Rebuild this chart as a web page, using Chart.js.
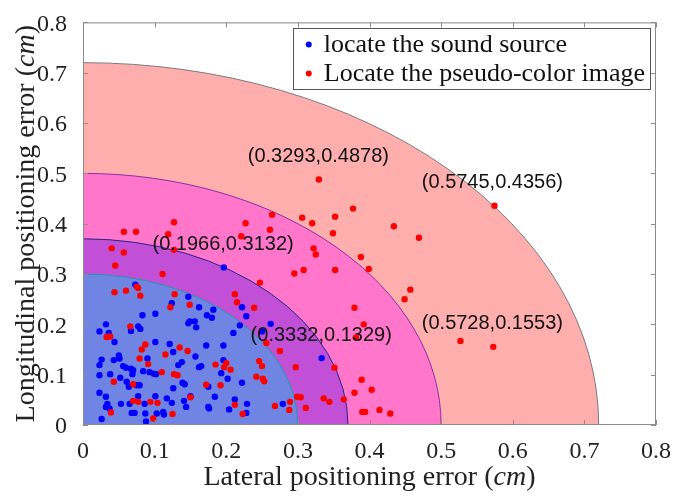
<!DOCTYPE html>
<html lang="en">
<head>
<meta charset="UTF-8">
<title>Positioning error</title>
<script src="https://cdn.jsdelivr.net/npm/chart.js"></script>
<style>
  body { margin: 0; background: #fff; }
  #caja { width: 675px; height: 496px; }
</style>
</head>
<body>
<div id="caja"><canvas id="errChart"></canvas></div>
<script>
// radii of the shaded error zones (cm), outermost first
var radios = [0.72, 0.5, 0.37, 0.3];

// blue points: locate the sound source
var blueX = [0.073,0.1966,0.124,0.147,0.162,0.149,0.147,0.156,0.158,0.173,0.180,0.182,0.219,0.222,0.228,0.262,0.210,0.083,0.101,0.077,
             0.080,0.067,0.023,0.032,0.036,0.044,0.026,0.023,0.023,0.043,0.050,0.051,0.056,0.060,0.067,0.070,0.069,0.052,0.038,0.061,
             0.064,0.075,0.079,0.023,0.032,0.034,0.032,0.037,0.026,0.053,0.065,0.068,0.072,0.077,0.086,0.087,0.088,0.084,0.090,0.093,
             0.099,0.102,0.101,0.101,0.103,0.112,0.113,0.117,0.121,0.126,0.124,0.126,0.133,0.138,0.139,0.142,0.141,0.144,0.150,0.157,
             0.162,0.165,0.172,0.175,0.175,0.176,0.184,0.193,0.196,0.202,0.204,0.212,0.222,0.228,0.229,0.279,0.3332,0.250,0.196];
var blueY = [0.279,0.3132,0.242,0.255,0.234,0.206,0.202,0.206,0.194,0.218,0.213,0.229,0.198,0.234,0.216,0.201,0.183,0.218,0.221,0.196,
             0.191,0.187,0.186,0.200,0.183,0.165,0.130,0.119,0.099,0.129,0.138,0.132,0.117,0.114,0.112,0.109,0.101,0.094,0.101,0.086,
             0.076,0.079,0.079,0.064,0.056,0.042,0.036,0.033,0.012,0.042,0.042,0.024,0.024,0.057,0.042,0.023,0.007,0.107,0.132,0.105,
             0.102,0.101,0.165,0.057,0.023,0.026,0.021,0.053,0.161,0.145,0.044,0.073,0.119,0.125,0.084,0.081,0.048,0.036,0.057,0.136,
             0.115,0.117,0.158,0.076,0.036,0.033,0.056,0.103,0.129,0.092,0.031,0.051,0.084,0.024,0.042,0.042,0.1329,0.186,0.158];

// red points: locate the pseudo-color image
var redX = [0.3293,0.264,0.306,0.320,0.352,0.349,0.261,0.227,0.221,0.127,0.119,0.074,0.057,0.040,0.322,0.127,0.377,0.434,0.469,0.388,
            0.399,0.5745,0.527,0.5728,0.057,0.045,0.111,0.075,0.077,0.044,0.060,0.080,0.128,0.122,0.149,0.066,0.033,0.038,0.087,0.082,
            0.079,0.091,0.115,0.135,0.146,0.110,0.127,0.132,0.043,0.070,0.070,0.077,0.094,0.104,0.039,0.098,0.125,0.150,0.172,0.192,
            0.185,0.197,0.200,0.206,0.212,0.223,0.239,0.212,0.215,0.247,0.246,0.250,0.242,0.251,0.253,0.256,0.275,0.268,0.288,0.289,
            0.299,0.304,0.297,0.311,0.295,0.308,0.325,0.336,0.344,0.351,0.352,0.457,0.449,0.379,0.392,0.381,0.364,0.389,0.379,0.403,
            0.390,0.394,0.414,0.429];
var redY = [0.4878,0.418,0.412,0.401,0.414,0.381,0.388,0.401,0.375,0.403,0.379,0.384,0.384,0.351,0.351,0.348,0.430,0.395,0.372,0.334,
            0.310,0.4356,0.167,0.1553,0.343,0.317,0.300,0.275,0.272,0.264,0.267,0.257,0.260,0.234,0.239,0.196,0.175,0.176,0.160,0.150,
            0.132,0.121,0.140,0.154,0.147,0.105,0.101,0.099,0.086,0.081,0.048,0.046,0.046,0.044,0.025,0.013,0.022,0.055,0.080,0.079,
            0.120,0.115,0.123,0.110,0.040,0.022,0.233,0.260,0.244,0.283,0.127,0.117,0.096,0.092,0.087,0.163,0.147,0.038,0.030,0.046,
            0.056,0.055,0.115,0.034,0.301,0.308,0.339,0.053,0.046,0.114,0.308,0.269,0.250,0.233,0.200,0.174,0.051,0.090,0.064,0.070,
            0.026,0.026,0.030,0.023];

// axis ticks
var tickVals = [0, 0.1, 0.2, 0.3, 0.4, 0.5, 0.6, 0.7, 0.8];

// coordinate labels written on the plot
var etiquetas = ['(0.3293,0.4878)', '(0.5745,0.4356)', '(0.1966,0.3132)', '(0.3332,0.1329)', '(0.5728,0.1553)'];
var leyenda = ['locate the sound source', 'Locate the pseudo-color image'];

// --- styles ---
var zoneFill = ['rgb(255,174,174)', 'rgb(255,118,202)', 'rgb(194,80,214)', 'rgb(112,132,228)'];
var zoneEdge = ['#7a7a7a', '#8a2fa8', '#26248a', '#1f9aa6'];
var labelAnchor = [[0.230, 0.534], [0.473, 0.481], [0.097, 0.359], [0.234, 0.177], [0.473, 0.201]];
var serif = '"Liberation Serif", "Times New Roman", serif';

function pares(xs, ys) {
    var out = [];
    for (var i = 0; i < xs.length; i++) out.push({x: xs[i], y: ys[i]});
    return out;
}

// draw text with an italic "cm"
function textoMixto(ctx, partes, size, cx, cy) {
    var total = 0;
    partes.forEach(function(p) {
        ctx.font = (p[1] ? 'italic ' : '') + size + 'px ' + serif;
        total += ctx.measureText(p[0]).width;
    });
    var x = cx - total / 2;
    partes.forEach(function(p) {
        ctx.font = (p[1] ? 'italic ' : '') + size + 'px ' + serif;
        ctx.fillText(p[0], x, cy);
        x += ctx.measureText(p[0]).width;
    });
}

var zonasPlugin = {
    id: 'zonas',
    beforeDatasetsDraw: function(chart) {
        var ctx = chart.ctx, sx = chart.scales.x, sy = chart.scales.y;
        var x0 = sx.getPixelForValue(0), y0 = sy.getPixelForValue(0);
        for (var i = 0; i < radios.length; i++) {
            var rx = sx.getPixelForValue(radios[i]) - x0;
            var ry = y0 - sy.getPixelForValue(radios[i]);
            ctx.save();
            ctx.beginPath();
            ctx.moveTo(x0, y0);
            ctx.ellipse(x0, y0, rx, ry, 0, -Math.PI / 2, 0);
            ctx.closePath();
            ctx.fillStyle = zoneFill[i];
            ctx.fill();
            ctx.beginPath();
            ctx.ellipse(x0, y0, rx, ry, 0, -Math.PI / 2, 0);
            ctx.strokeStyle = zoneEdge[i];
            ctx.lineWidth = 1;
            ctx.stroke();
            ctx.restore();
        }
    },
    afterDatasetsDraw: function(chart) {
        var ctx = chart.ctx, sx = chart.scales.x, sy = chart.scales.y, a = chart.chartArea;
        ctx.save();
        // coordinate labels
        ctx.fillStyle = '#111';
        ctx.font = '20px "Liberation Sans", Arial, sans-serif';
        ctx.textAlign = 'left';
        ctx.textBaseline = 'middle';
        for (var i = 0; i < etiquetas.length; i++) {
            ctx.fillText(etiquetas[i], sx.getPixelForValue(labelAnchor[i][0]), sy.getPixelForValue(labelAnchor[i][1]));
        }

        // axes box and inward ticks
        ctx.strokeStyle = '#8c8c8c';
        ctx.lineWidth = 1;
        ctx.strokeRect(a.left + 0.5, a.top + 0.5, a.right - a.left - 1, a.bottom - a.top - 1);
        ctx.beginPath();
        tickVals.forEach(function(v) {
            var px = Math.round(sx.getPixelForValue(v)) + 0.5;
            var py = Math.round(sy.getPixelForValue(v)) + 0.5;
            ctx.moveTo(px, a.bottom); ctx.lineTo(px, a.bottom - 5);
            ctx.moveTo(px, a.top); ctx.lineTo(px, a.top + 5);
            ctx.moveTo(a.left, py); ctx.lineTo(a.left + 5, py);
            ctx.moveTo(a.right, py); ctx.lineTo(a.right - 5, py);
        });
        ctx.stroke();

        // legend box in the upper right corner
        ctx.font = '26px ' + serif;
        var ancho = Math.max(ctx.measureText(leyenda[0]).width, ctx.measureText(leyenda[1]).width);
        var bw = ancho + 36, bh = 61;
        var bx = a.right - 6 - bw, by = a.top + 6;
        ctx.fillStyle = '#fff';
        ctx.fillRect(bx, by, bw, bh);
        ctx.strokeStyle = '#555';
        ctx.strokeRect(Math.round(bx) + 0.5, Math.round(by) + 0.5, Math.round(bw), bh);
        var colores = ['#0000ff', '#ff0000'];
        for (var k = 0; k < 2; k++) {
            var ly = by + 16 + k * 29;
            ctx.fillStyle = colores[k];
            ctx.beginPath();
            ctx.arc(bx + 16, ly, 3, 0, Math.PI * 2);
            ctx.fill();
            ctx.fillStyle = '#111';
            ctx.textBaseline = 'middle';
            ctx.fillText(leyenda[k], bx + 31, ly + 1);
        }
        ctx.restore();
    },
    afterDraw: function(chart) {
        var ctx = chart.ctx, a = chart.chartArea;
        ctx.save();
        ctx.fillStyle = '#222';
        ctx.textBaseline = 'middle';
        textoMixto(ctx, [['Lateral positioning error (', false], ['cm', true], [')', false]], 28, (a.left + a.right) / 2, 478);
        ctx.translate(27, (a.top + a.bottom) / 2);
        ctx.rotate(-Math.PI / 2);
        textoMixto(ctx, [['Longitudinal positioning error (', false], ['cm', true], [')', false]], 28, 0, 0);
        ctx.restore();
    }
};

var fuenteEje = { family: serif, size: 24 };
function etiquetaTick(v) { return v === 0 ? '0' : v.toFixed(1); }

var ctxErr = document.getElementById('errChart').getContext('2d');
var errChart = new Chart(ctxErr, {
    type: 'scatter',
    data: {
        datasets: [{
            label: leyenda[1],
            data: pares(redX, redY),
            backgroundColor: '#ff0000',
            borderWidth: 0,
            pointRadius: 3.2
        }, {
            label: leyenda[0],
            data: pares(blueX, blueY),
            backgroundColor: '#0000ff',
            borderWidth: 0,
            pointRadius: 3.2
        }]
    },
    options: {
        responsive: true,
        maintainAspectRatio: false,
        animation: false,
        layout: { padding: { left: 0, right: 17, top: 19, bottom: 0 } },
        plugins: { legend: { display: false }, tooltip: { enabled: false } },
        scales: {
            x: {
                type: 'linear', min: 0, max: 0.8,
                grid: { display: false }, border: { display: false },
                ticks: { stepSize: 0.1, font: fuenteEje, color: '#222', padding: 4, maxRotation: 0, callback: etiquetaTick },
                afterFit: function(s) { s.height = 71; }
            },
            y: {
                type: 'linear', min: 0, max: 0.8,
                grid: { display: false }, border: { display: false },
                ticks: { stepSize: 0.1, font: fuenteEje, color: '#222', padding: 8, labelOffset: 2, callback: etiquetaTick },
                afterFit: function(s) { s.width = 83; }
            }
        }
    },
    plugins: [zonasPlugin]
});
</script>
</body>
</html>
